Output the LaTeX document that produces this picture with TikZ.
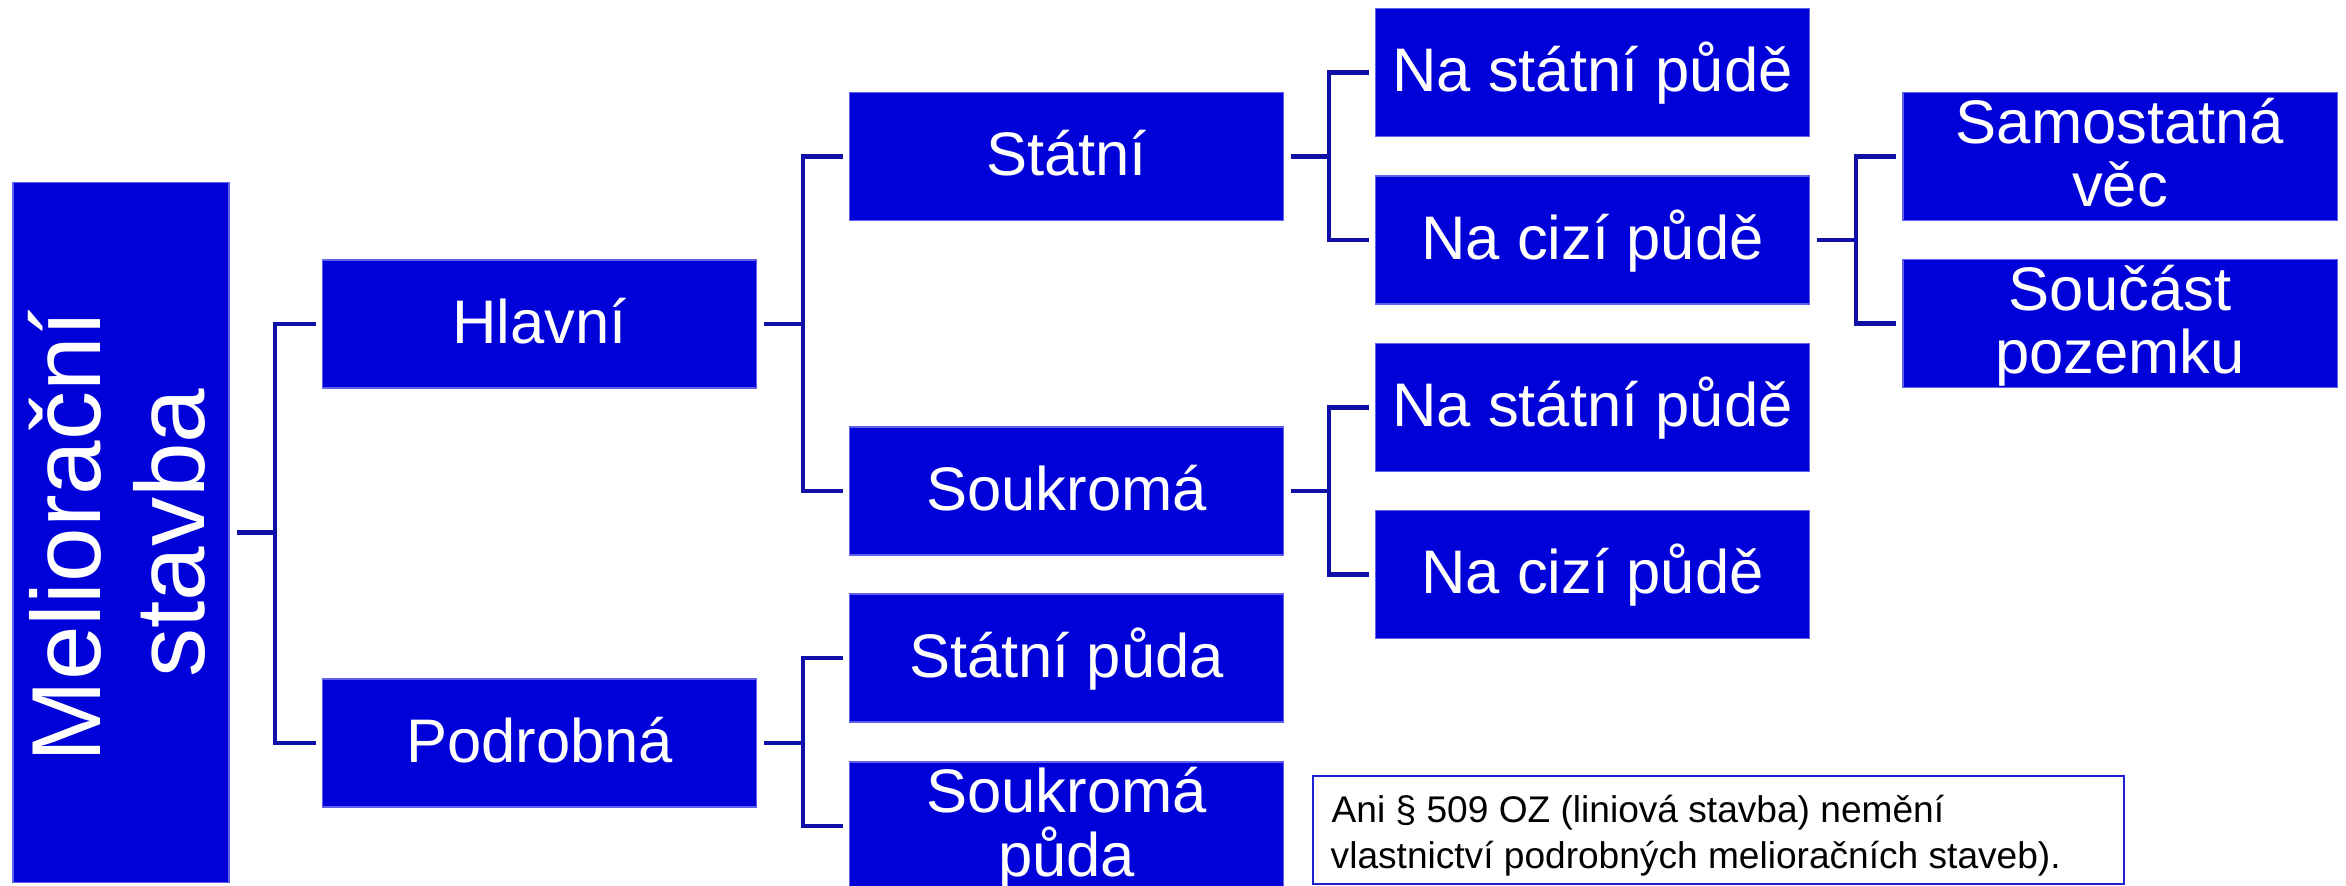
\documentclass[tikz,border=0pt]{standalone}
\usepackage{fontspec}
\setmainfont{Liberation Sans}
\usetikzlibrary{calc}

\definecolor{boxblue}{RGB}{0,0,216}
\definecolor{boxedge}{RGB}{96,96,236}
\definecolor{linkblue}{RGB}{16,16,168}
\definecolor{noteedge}{RGB}{30,30,210}

\begin{document}
\begin{tikzpicture}[x=0.01cm, y=-0.01cm,
  box/.style={rectangle, fill=boxblue, draw=boxedge, line width=0.012cm,
              inner sep=0pt, minimum width=4.33cm, minimum height=1.28cm},
  lbl/.style={text=white, inner sep=0pt, anchor=base,
              font=\fontsize{17.5pt}{18.2pt}\selectfont},
  rootlbl/.style={text=white, inner sep=0pt, anchor=base, rotate=90,
              font=\fontsize{27.9pt}{29pt}\selectfont},
  notelbl/.style={text=black, inner sep=0pt, anchor=base west,
              font=\fontsize{10.55pt}{13pt}\selectfont},
  conn/.style={draw=linkblue, line width=0.045cm, line join=miter}]

\useasboundingbox (0,0) rectangle (2346,886);
\clip (0,0) rectangle (2346,886);

% boxes
\node[box, minimum width=2.16cm, minimum height=6.99cm] (root) at (121,532.5) {};
\node[box] (hlavni)   at (539.5,324) {};
\node[box] (podrobna) at (539.5,743) {};
\node[box] (statni)   at (1066.5,156.5) {};
\node[box] (soukroma) at (1066.5,491) {};
\node[box] (statnipuda)   at (1066.5,658) {};
\node[box] (soukromapuda) at (1066.5,826) {};
\node[box] (nastatniA) at (1592.5,72.5) {};
\node[box] (nacizyA)   at (1592.5,240) {};
\node[box] (nastatniB) at (1592.5,407.5) {};
\node[box] (nacizyB)   at (1592.5,574.5) {};
\node[box, minimum width=4.34cm] (samostatna) at (2120,156.5) {};
\node[box, minimum width=4.34cm] (soucast)    at (2120,323.5) {};

% labels
\node[rootlbl] (rootA) at (100.5,536) {Meliorační};
\node[rootlbl] (rootB) at (204,533) {stavba};
\node[lbl] (hlavniT)   at ($(hlavni.center)+(0,19.5)$) {Hlavní};
\node[lbl] (podrobnaT) at ($(podrobna.center)+(0,19.5)$) {Podrobná};
\node[lbl] (statniT)   at ($(statni.center)+(0,19.5)$) {Státní};
\node[lbl] (soukromaT) at ($(soukroma.center)+(0,19.5)$) {Soukromá};
\node[lbl] (statnipudaT) at ($(statnipuda.center)+(0,19.5)$) {Státní půda};
\node[lbl] (soukromapudaA) at ($(soukromapuda.center)+(0,-13)$) {Soukromá};
\node[lbl] (soukromapudaB) at ($(soukromapuda.center)+(0,50.5)$) {půda};
\node[lbl] (nastatniAT) at ($(nastatniA.center)+(0,19.5)$) {Na státní půdě};
\node[lbl] (nacizyAT)   at ($(nacizyA.center)+(0,19.5)$) {Na cizí půdě};
\node[lbl] (nastatniBT) at ($(nastatniB.center)+(0,19.5)$) {Na státní půdě};
\node[lbl] (nacizyBT)   at ($(nacizyB.center)+(0,19.5)$) {Na cizí půdě};
\node[lbl] (samostatnaA) at ($(samostatna.center)+(0,-13)$) {Samostatná};
\node[lbl] (samostatnaB) at ($(samostatna.center)+(0,50.5)$) {věc};
\node[lbl] (soucastA) at ($(soucast.center)+(0,-13)$) {Součást};
\node[lbl] (soucastB) at ($(soucast.center)+(0,50.5)$) {pozemku};

% branch points
\coordinate (brRoot)   at (275,532.5);
\coordinate (brHlavni) at (803,324);
\coordinate (brPodr)   at (803,743);
\coordinate (brStatni) at (1329,156.5);
\coordinate (brSoukr)  at (1329,491);
\coordinate (brCizi)   at (1856,240);

% connectors
\draw[conn] ($(root.east)+(7,0)$) -- (brRoot);
\draw[conn] ($(hlavni.west)+(-6,0)$) -| (brRoot) |- ($(podrobna.west)+(-6,0)$);

\draw[conn] ($(hlavni.east)+(7,0)$) -- (brHlavni);
\draw[conn] ($(statni.west)+(-6,0)$) -| (brHlavni) |- ($(soukroma.west)+(-6,0)$);

\draw[conn] ($(podrobna.east)+(7,0)$) -- (brPodr);
\draw[conn] ($(statnipuda.west)+(-6,0)$) -| (brPodr) |- ($(soukromapuda.west)+(-6,0)$);

\draw[conn] ($(statni.east)+(7,0)$) -- (brStatni);
\draw[conn] ($(nastatniA.west)+(-6,0)$) -| (brStatni) |- ($(nacizyA.west)+(-6,0)$);

\draw[conn] ($(soukroma.east)+(7,0)$) -- (brSoukr);
\draw[conn] ($(nastatniB.west)+(-6,0)$) -| (brSoukr) |- ($(nacizyB.west)+(-6,0)$);

\draw[conn] ($(nacizyA.east)+(7,0)$) -- (brCizi);
\draw[conn] ($(samostatna.west)+(-6,0)$) -| (brCizi) |- ($(soucast.west)+(-6,0)$);

% note
\node[rectangle, draw=noteedge, fill=white, line width=0.02cm, inner sep=0pt,
      minimum width=8.11cm, minimum height=1.08cm] (note) at (1718.5,830) {};
\node[notelbl] (noteA) at (1331,822) {Ani § 509 OZ (liniová stavba) nemění};
\node[notelbl] (noteB) at (1330,869) {vlastnictví podrobných melioračních staveb).};

\end{tikzpicture}
\end{document}
